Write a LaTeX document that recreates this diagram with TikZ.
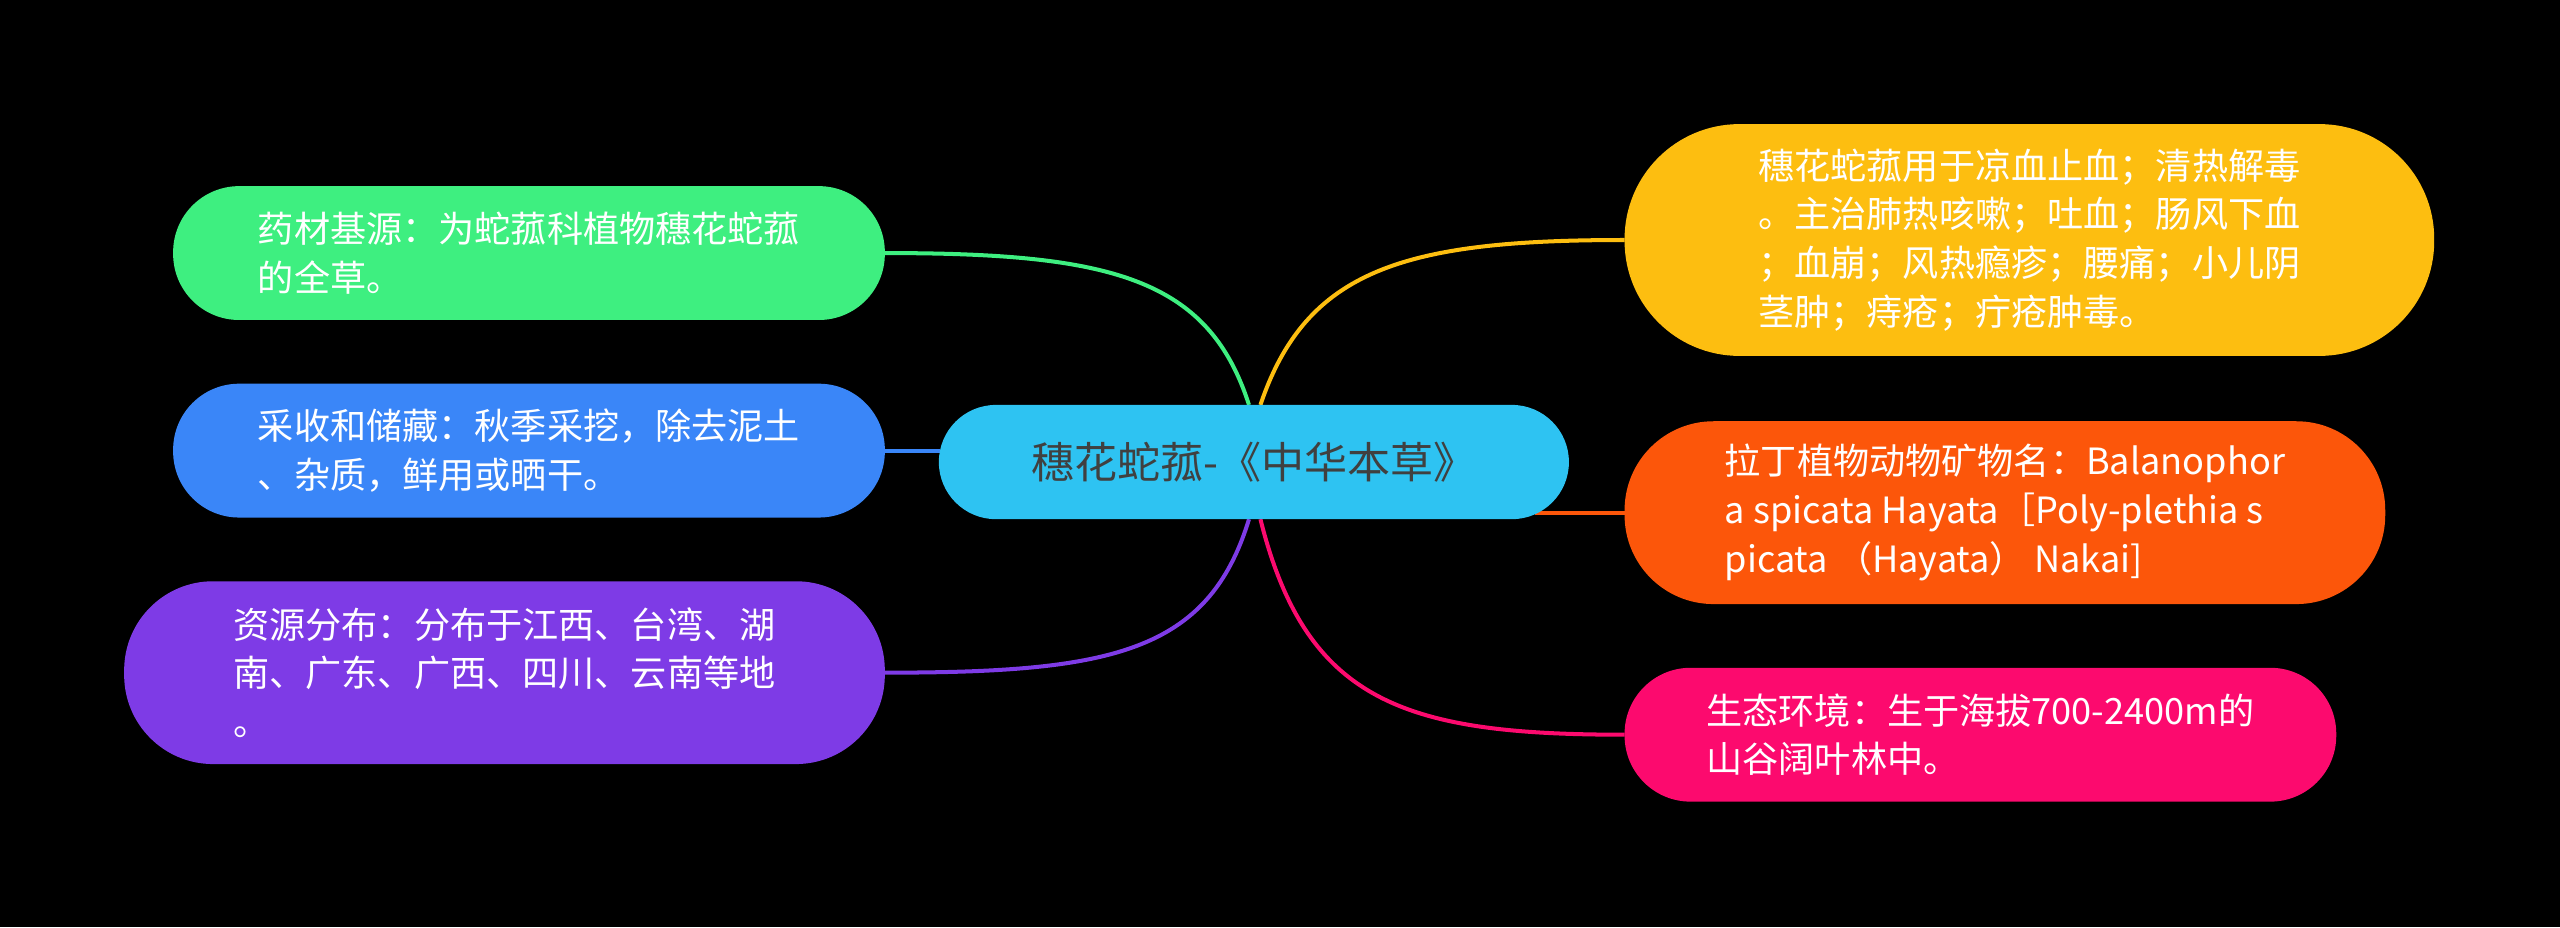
\documentclass[tikz,border=0pt]{standalone}
\usepackage{fontspec}
\setmainfont{Noto Sans CJK SC}
\begin{document}
\begin{tikzpicture}[x=0.02cm,y=-0.02cm,
  box/.style={rounded corners=20pt,text=white,align=left,inner sep=0pt,font=\fontsize{12.6}{17}\selectfont},
  conn/.style={line width=1.4pt}]
\fill[black] (0,0) rectangle (1568,568);
\definecolor{cRoot}{HTML}{2EC3F2}
\definecolor{cG}{HTML}{3EEF80}
\definecolor{cB}{HTML}{3A86F8}
\definecolor{cP}{HTML}{7E3BE6}
\definecolor{cY}{HTML}{FDBE10}
\definecolor{cO}{HTML}{FC560A}
\definecolor{cR}{HTML}{FC0A6E}
% connectors
\coordinate (rtl) at (765,248);
\coordinate (rtr) at (772,248);
\coordinate (rbl) at (765,318);
\coordinate (rbr) at (772,318);
\coordinate (rl) at (576,276);
\coordinate (rr) at (940,314);
\coordinate (g) at (542,155);
\coordinate (b) at (542,276);
\coordinate (p) at (542,412);
\coordinate (y) at (995,147);
\coordinate (o) at (995,314);
\coordinate (r) at (995,450);
\draw[conn,cG] (rtl) .. controls (740,170) and (680,155) .. (g);
\draw[conn,cB] (rl) -- (b);
\draw[conn,cP] (rbl) .. controls (740,400) and (680,412) .. (p);
\draw[conn,cY] (rtr) .. controls (800,165) and (860,147) .. (y);
\draw[conn,cO] (rr) -- (o);
\draw[conn,cR] (rbr) .. controls (800,430) and (860,450) .. (r);
% nodes
\node[box,fill=cRoot,rounded corners=35\pgflinewidth,minimum width=7.72cm,minimum height=1.4cm,rounded corners=19.9pt,text=black!75,font=\fontsize{15}{18}\selectfont] (root) at (768,283) {穗花蛇菰-《中华本草》};
\node[box,fill=cG,minimum width=8.72cm,minimum height=1.64cm,rounded corners=23pt] (n1) at (324,155) {药材基源：为蛇菰科植物穗花蛇菰\\的全草。};
\node[box,fill=cB,minimum width=8.72cm,minimum height=1.64cm,rounded corners=23pt] (n2) at (324,276) {采收和储藏：秋季采挖，除去泥土\\、杂质，鲜用或晒干。};
\node[box,fill=cP,minimum width=9.32cm,minimum height=2.24cm,rounded corners=31pt] (n3) at (309,412) {资源分布：分布于江西、台湾、湖\\南、广东、广西、四川、云南等地\\。};
\node[box,fill=cY,minimum width=9.92cm,minimum height=2.84cm,rounded corners=40pt] (n4) at (1243,147) {穗花蛇菰用于凉血止血；清热解毒\\。主治肺热咳嗽；吐血；肠风下血\\；血崩；风热瘾疹；腰痛；小儿阴\\茎肿；痔疮；疔疮肿毒。};
\node[box,fill=cO,minimum width=9.32cm,minimum height=2.24cm,rounded corners=31pt] (n5) at (1228,314) {拉丁植物动物矿物名：Balanophor\\a spicata Hayata［Poly-plethia s\\picata （Hayata） Nakai]};
\node[box,fill=cR,minimum width=8.72cm,minimum height=1.64cm,rounded corners=23pt] (n6) at (1213,450) {生态环境：生于海拔700-2400m的\\山谷阔叶林中。};
\end{tikzpicture}
\end{document}
